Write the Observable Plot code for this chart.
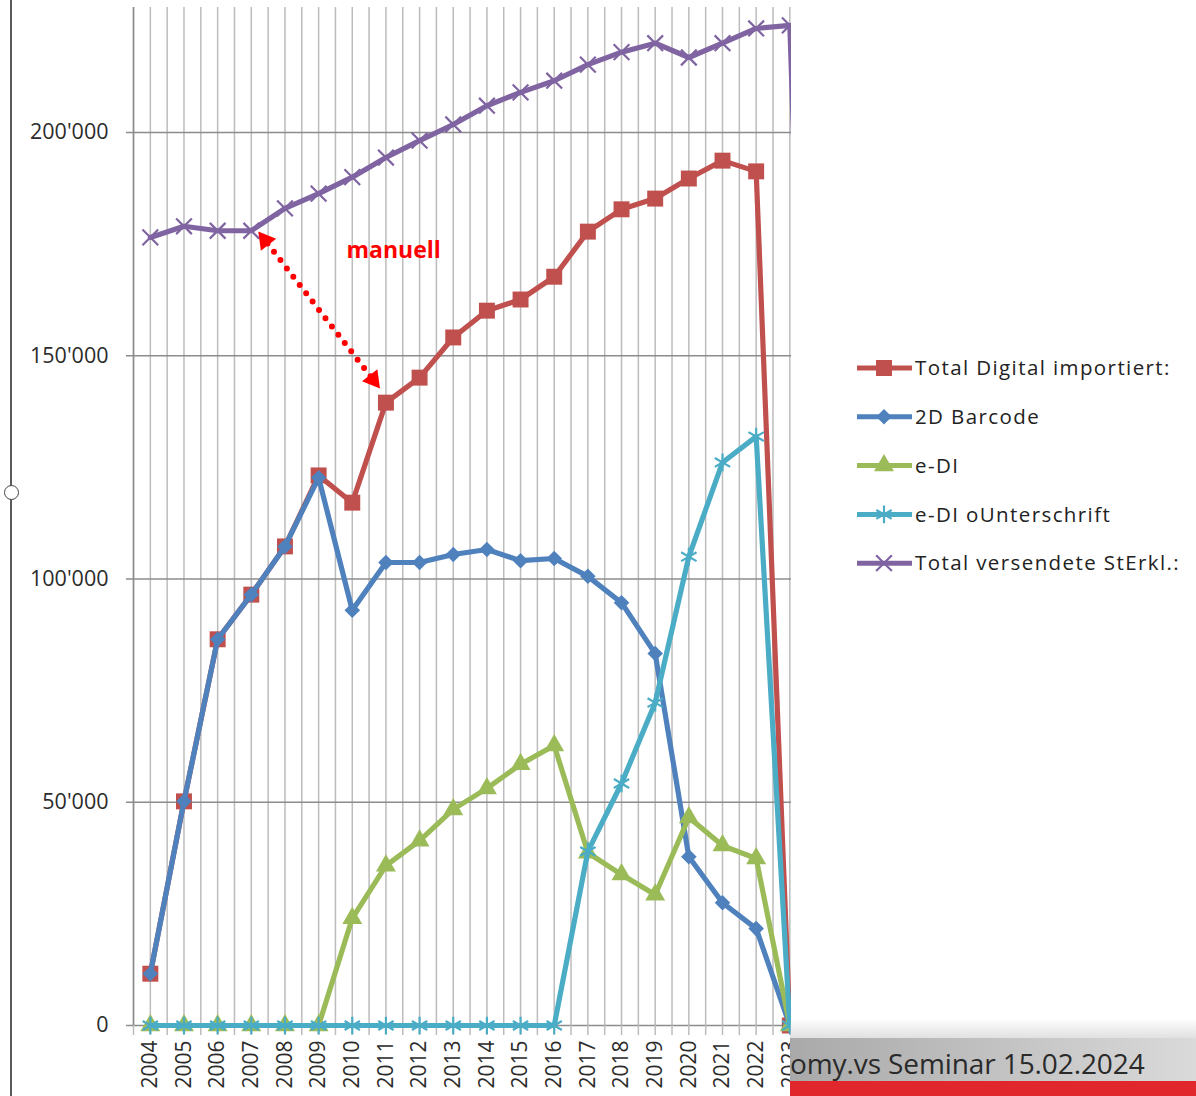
<!DOCTYPE html>
<html>
<head>
<meta charset="utf-8">
<script src="https://cdn.jsdelivr.net/npm/d3@7"></script>
<script src="https://cdn.jsdelivr.net/npm/@observablehq/plot@0.6"></script>
<style>
  html, body { margin: 0; padding: 0; background: #fff; }
  #page { position: relative; width: 1196px; height: 1096px; overflow: hidden; font-family: "Open Sans", sans-serif; background: #fff; }
  #chart { position: absolute; left: 0; top: 0; width: 791px; height: 1096px; overflow: hidden; }
  #legend { position: absolute; left: 845px; top: 340px; }
  #leftline { position: absolute; left: 10px; top: 0; width: 2px; height: 1096px; background: #5a5a5a; }
  #handle { position: absolute; left: 4px; top: 485px; width: 13px; height: 13px; border: 1.5px solid #444; border-radius: 50%; background: #fff; }
  #fade { position: absolute; left: 790px; top: 1018px; width: 406px; height: 20px; background: linear-gradient(to bottom, rgba(255,255,255,0), rgba(200,200,200,0.55)); }
  #band { position: absolute; left: 790px; top: 1038px; width: 406px; height: 43px; background: linear-gradient(to right, #a9a9a9, #dadada); }
  #redbar { position: absolute; left: 790px; top: 1081px; width: 406px; height: 15px; background: #e1272c; }
  #footertext { position: absolute; left: 790px; top: 1044px; font-family: "Open Sans", sans-serif; font-size: 28px; line-height: 38px; color: #2a2a2a; white-space: nowrap; letter-spacing: -0.1px; }
</style>
</head>
<body>
<div id="page">
  <div id="chart"></div>
  <div id="legend"></div>
  <div id="leftline"></div>
  <div id="handle"></div>
  <div id="fade"></div>
  <div id="band"></div>
  <div id="redbar"></div>
  <div id="footertext">omy.vs Seminar 15.02.2024</div>
</div>
<script>
// ---------------- data ----------------
const years = [2004, 2005, 2006, 2007, 2008, 2009, 2010, 2011, 2012, 2013, 2014, 2015, 2016, 2017, 2018, 2019, 2020, 2021, 2022, 2023];
const nextYear = 2024; // only the purple series continues (cut off at the chart edge)

const seriesNames = ["Total Digital importiert:", "2D Barcode", "e-DI", "e-DI oUnterschrift", "Total versendete StErkl.:"];

const totalDigital   = [11600, 50200, 86500, 96500, 107300, 123200, 117100, 139500, 145100, 154100, 160100, 162600, 167700, 177800, 182800, 185200, 189700, 193700, 191300, 0];
const barcode2D      = [11600, 50200, 86500, 96500, 107300, 122700, 93000, 103700, 103700, 105500, 106600, 104100, 104600, 100600, 94700, 83300, 37800, 27500, 21700, 0];
const eDI            = [0, 0, 0, 0, 0, 0, 24000, 35800, 41400, 48400, 53100, 58500, 62700, 38700, 33800, 29300, 46600, 40300, 37400, 0];
const eDIoU          = [0, 0, 0, 0, 0, 0, 0, 0, 0, 0, 0, 0, 0, 39000, 54200, 72300, 105000, 126100, 131900, 0];
const totalVersendet = [176500, 179000, 178000, 178000, 183000, 186300, 190000, 194400, 198200, 201800, 206000, 209000, 211600, 215200, 218000, 220000, 216800, 220000, 223300, 224000, 0];

const yTicks = [0, 50000, 100000, 150000, 200000];
const yMax = 228000;

const annotationText = "manuell";
const annotationAt = {year: 2011.23, value: 173600};
const arrowTips = [{year: 2007.21, value: 177800}, {year: 2010.82, value: 142700}];

// ---------------- styles ----------------
const seriesColors  = ["#C0504D", "#4F81BD", "#9BBB59", "#4BACC6", "#8064A2"];
const seriesSymbols = ["square", "diamond2", "triangle", "asterisk", "times"];
const seriesR       = [9, 7, 7.4, 8.4, 7.2];
const seriesFilled  = [true, true, true, false, false];
const seriesValues  = [totalDigital, barcode2D, eDI, eDIoU, totalVersendet];

const yearsAll = [...years, nextYear];
const rows = seriesNames.flatMap((name, i) =>
  seriesValues[i].map((v, j) => ({series: name, idx: i, year: yearsAll[j], value: v})));

const gridYears = years.flatMap(y => [y - 0.5, y]);
const fmt = d3.formatLocale({decimal: ".", thousands: "'", grouping: [3], currency: ["", ""]}).format(",");

const W = 791, H = 1096, mL = 133, mR = 0, mT = 7, mB = 71;
const xDomain = [years[0] - 0.5, years[years.length - 1] + 0.05];

const xs = Plot.scale({x: {type: "linear", domain: xDomain, range: [mL, W - mR]}});
const ys = Plot.scale({y: {type: "linear", domain: [0, yMax], range: [H - mB, mT]}});

// arrow geometry (double-headed dotted arrow)
const A = [xs.apply(arrowTips[0].year), ys.apply(arrowTips[0].value)];
const B = [xs.apply(arrowTips[1].year), ys.apply(arrowTips[1].value)];
const len = Math.hypot(B[0] - A[0], B[1] - A[1]);
const ux = (B[0] - A[0]) / len, uy = (B[1] - A[1]) / len;
const ang = Math.atan2(uy, ux) * 180 / Math.PI;
const toData = (p) => ({year: xs.invert(p[0]), value: ys.invert(p[1])});
const lineStart = toData([A[0] + ux * 15, A[1] + uy * 15]);
const lineEnd = toData([B[0] - ux * 15, B[1] - uy * 15]);
const heads = [
  {...toData([A[0] + ux * 11, A[1] + uy * 11]), rot: ang + 270},
  {...toData([B[0] - ux * 11, B[1] - uy * 11]), rot: ang + 90}
];

const seriesMarks = seriesNames.flatMap((name, i) => {
  const data = rows.filter(d => d.idx === i);
  return [
    Plot.lineY(data, {x: "year", y: "value", stroke: seriesColors[i], strokeWidth: 5.2, strokeLinejoin: "round"}),
    Plot.dot(data.filter(d => d.year <= years[years.length - 1]), {
      x: "year", y: "value", symbol: () => seriesSymbols[i], r: seriesR[i],
      fill: seriesFilled[i] ? seriesColors[i] : "none",
      stroke: seriesColors[i], strokeWidth: seriesFilled[i] ? 0 : 2.2
    })
  ];
});

const chart = Plot.plot({
  width: W, height: H,
  marginLeft: mL, marginRight: mR, marginTop: mT, marginBottom: mB,
  style: {fontFamily: "Open Sans, sans-serif", background: "white", overflow: "hidden"},
  x: {type: "linear", domain: xDomain},
  y: {type: "linear", domain: [0, yMax]},
  symbol: {type: "identity"},
  marks: [
    Plot.ruleX(gridYears, {stroke: "#bcbcbc", strokeWidth: 1.5}),
    Plot.ruleX([xDomain[0]], {stroke: "#8c8c8c", strokeWidth: 1.5}),
    Plot.ruleY(yTicks, {stroke: "#8c8c8c", strokeWidth: 1.5}),
    Plot.axisX(gridYears, {tickSize: 10, tickFormat: () => "", stroke: "#bcbcbc", strokeWidth: 1.5, label: null}),
    Plot.axisX(years, {tickSize: 0, tickPadding: 15, tickRotate: -90, tickFormat: d => String(d), fontSize: 21, fill: "#2b2b2b", label: null}),
    Plot.axisY(yTicks, {tickSize: 7, tickPadding: 18, tickFormat: fmt, fontSize: 21.5, fill: "#2b2b2b", stroke: "#8c8c8c", strokeWidth: 1.5, label: null}),
    ...seriesMarks,
    Plot.link([{x1: lineStart.year, y1: lineStart.value, x2: lineEnd.year, y2: lineEnd.value}], {
      x1: "x1", y1: "y1", x2: "x2", y2: "y2", stroke: "#FF0000", strokeWidth: 6,
      strokeDasharray: "0 10.5", strokeLinecap: "round"
    }),
    Plot.dot(heads, {x: "year", y: "value", symbol: () => "triangle", r: 7.2, fill: "#FF0000", rotate: "rot"}),
    Plot.text([annotationAt], {x: "year", y: "value", text: () => annotationText, fill: "#FF0000", fontSize: 23, fontWeight: "bold"})
  ]
});
document.getElementById("chart").appendChild(chart);

// ---------------- legend ----------------
const legendSvg = d3.select("#legend").append("svg").attr("width", 351).attr("height", 250);
const symMap = {square: d3.symbolSquare, diamond2: d3.symbolDiamond2, triangle: d3.symbolTriangle, asterisk: d3.symbolAsterisk, times: d3.symbolTimes};
const legendY0 = 28, legendStep = 48.8;
seriesNames.forEach((name, i) => {
  const g = legendSvg.append("g").attr("transform", `translate(0,${legendY0 + i * legendStep})`);
  g.append("line").attr("x1", 12).attr("x2", 67).attr("y1", 0).attr("y2", 0)
    .attr("stroke", seriesColors[i]).attr("stroke-width", 5);
  g.append("path").attr("transform", "translate(39,0)")
    .attr("d", d3.symbol(symMap[seriesSymbols[i]], Math.PI * seriesR[i] * seriesR[i])())
    .attr("fill", seriesFilled[i] ? seriesColors[i] : "none")
    .attr("stroke", seriesColors[i]).attr("stroke-width", seriesFilled[i] ? 0 : 2.2);
  g.append("text").attr("x", 70).attr("y", 0).attr("dy", "0.35em")
    .attr("font-family", "Open Sans, sans-serif").attr("font-size", 20.5).attr("fill", "#222")
    .attr("letter-spacing", "1.4px")
    .text(name);
});
</script>
</body>
</html>
